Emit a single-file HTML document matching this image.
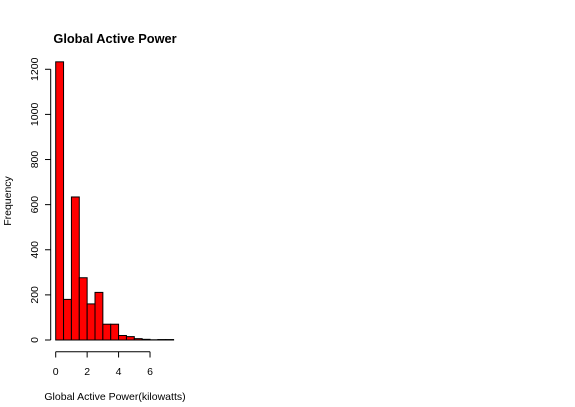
<!DOCTYPE html>
<html><head><meta charset="utf-8"><style>
body{margin:0;background:#fff;width:575px;height:402px;overflow:hidden}
svg{font-family:"Liberation Sans",Arial,sans-serif}
</style></head><body>
<svg id="c" width="575" height="402">
<text x="115" y="43" text-anchor="middle" font-weight="bold" font-size="12.8">Global Active Power</text>
<text x="115" y="400" text-anchor="middle" font-size="10.5">Global Active Power(kilowatts)</text>
<text transform="translate(11,201) rotate(-90)" text-anchor="middle" font-size="10.5">Frequency</text>
<g id="bars"></g>
<g id="axes"></g>
</svg>
<script>
const binStarts=[0,0.5,1,1.5,2,2.5,3,3.5,4,4.5,5,5.5,6,6.5,7];
const binWidth=0.5;
const counts=[1233,180,634,276,160,211,70,70,20,15,6,3,1,2,2];
const xTicks=[0,2,4,6];
const yTicks=[0,200,400,600,800,1000,1200];
const NS="http://www.w3.org/2000/svg";
const sx=v=>55.7+v*15.72;
const sy=v=>340-v*0.2256;
const bars=document.getElementById('bars');
counts.forEach((c,i)=>{
 const r=document.createElementNS(NS,'rect');
 r.setAttribute('x',sx(binStarts[i]));
 r.setAttribute('y',sy(c));
 r.setAttribute('width',sx(binStarts[i]+binWidth)-sx(binStarts[i]));
 r.setAttribute('height',sy(0)-sy(c));
 r.setAttribute('fill','#ff0000');r.setAttribute('stroke','#000');r.setAttribute('stroke-width','1');
 
 
 bars.appendChild(r);
});
const ax=document.getElementById('axes');
function line(x1,y1,x2,y2){const l=document.createElementNS(NS,'line');l.setAttribute('x1',x1);l.setAttribute('y1',y1);l.setAttribute('x2',x2);l.setAttribute('y2',y2);l.setAttribute('stroke','#000');


ax.appendChild(l);}
line(50.7,sy(yTicks[0]),50.7,sy(yTicks[yTicks.length-1]));
yTicks.forEach(t=>{line(45,sy(t),50.7,sy(t));
 const tx=document.createElementNS(NS,'text');tx.setAttribute('transform',`translate(38,${sy(t)}) rotate(-90)`);tx.setAttribute('text-anchor','middle');tx.setAttribute('font-size','10.5');tx.textContent=t;
 
 
 ax.appendChild(tx);});
line(sx(xTicks[0]),351.7,sx(xTicks[xTicks.length-1]),351.7);
xTicks.forEach(t=>{line(sx(t),351.7,sx(t),357.5);
 const tx=document.createElementNS(NS,'text');tx.setAttribute('x',sx(t));tx.setAttribute('y',375);tx.setAttribute('text-anchor','middle');tx.setAttribute('font-size','10.5');tx.textContent=t;
 
 
 ax.appendChild(tx);});
</script>
</body></html>
